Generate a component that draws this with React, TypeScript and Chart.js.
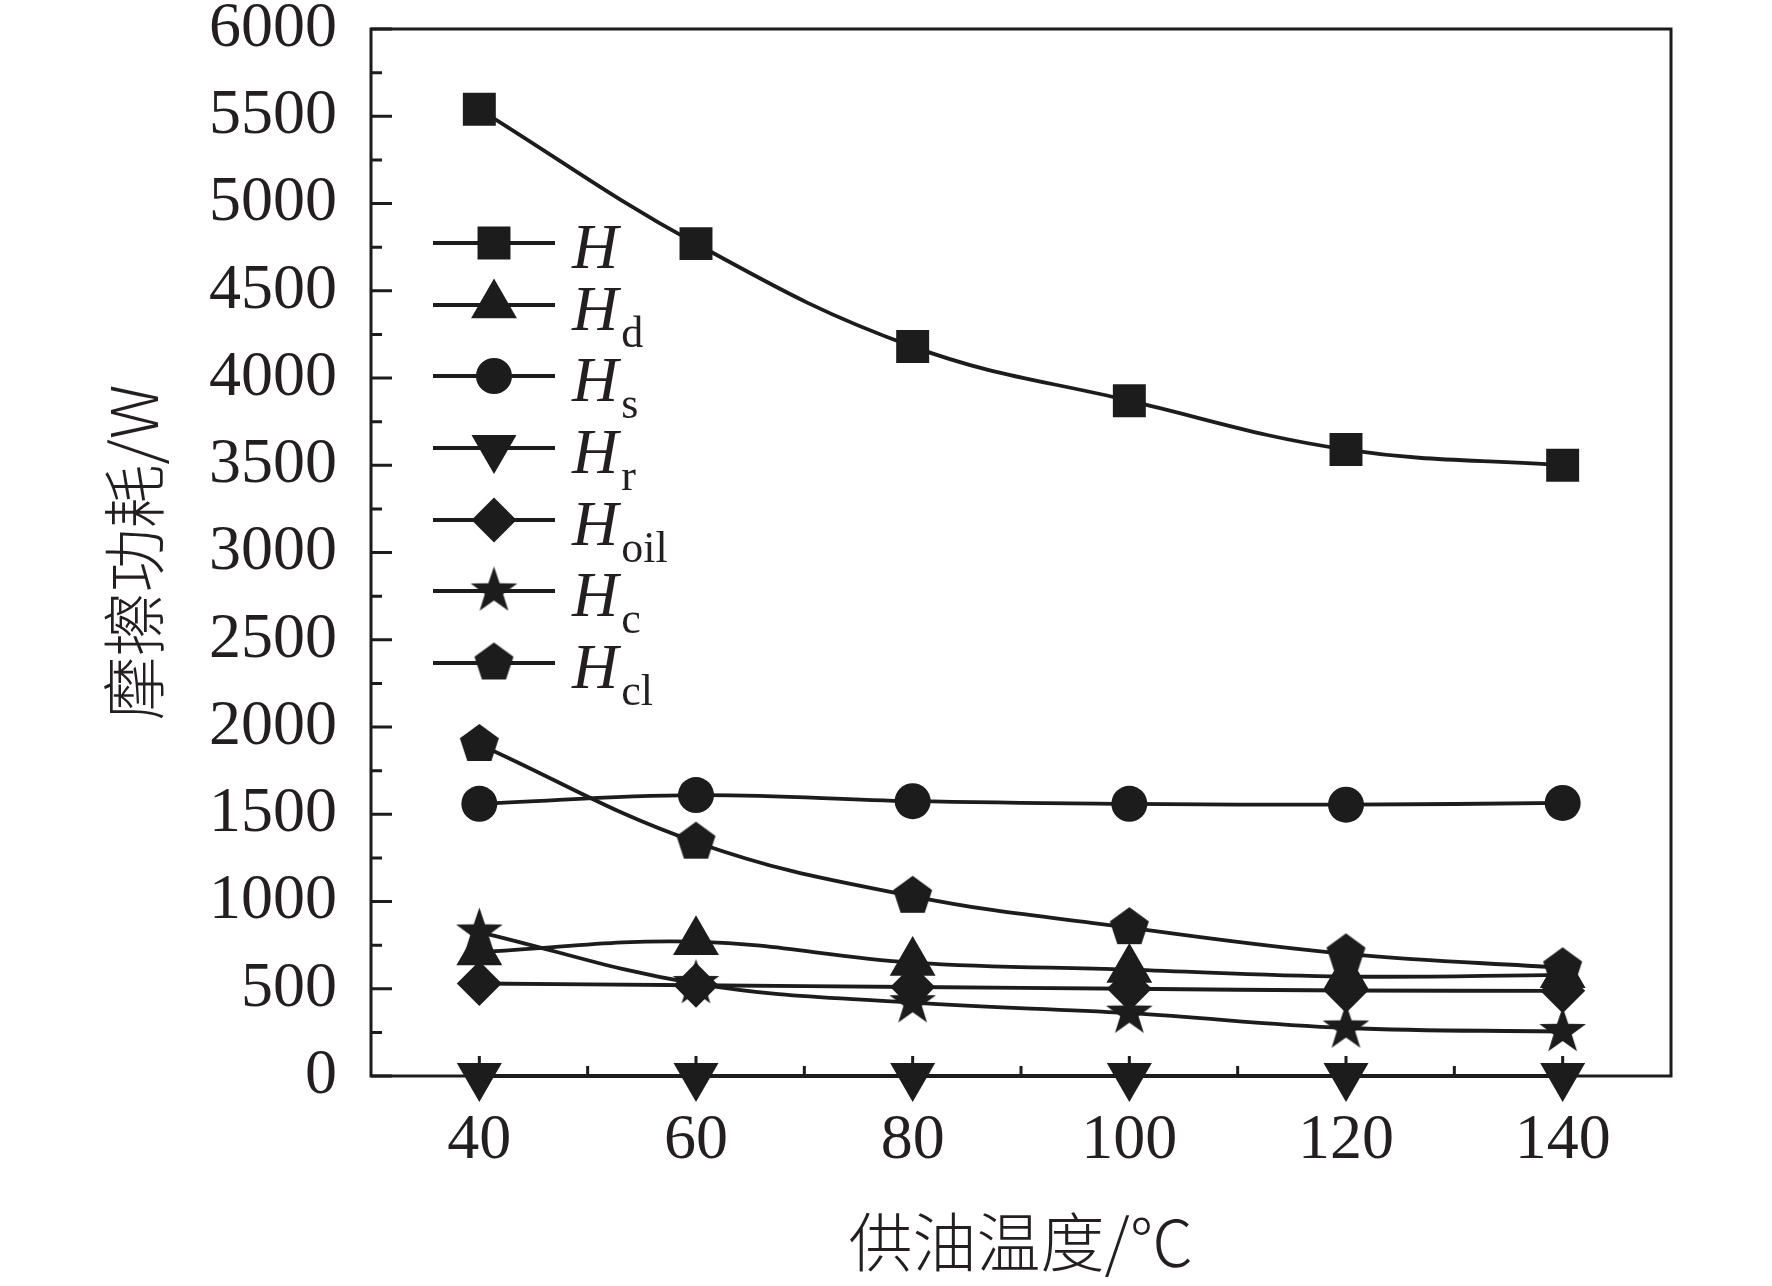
import React, { useEffect, useRef } from 'react';
import Chart from 'chart.js/auto';
import { drawPoint } from 'chart.js/helpers';

// supply oil temperature (°C)
const temperatures = [40, 60, 80, 100, 120, 140];

// friction power loss (W)
const H = [5540, 4770, 4180, 3870, 3590, 3500];
const Hd = [710, 770, 650, 610, 570, 580];
const Hs = [1560, 1610, 1575, 1560, 1555, 1565];
const Hr = [0, 0, 0, 0, 0, 0];
const Hoil = [530, 520, 510, 500, 490, 488];
const Hc = [825, 530, 420, 360, 275, 255];
const Hcl = [1900, 1340, 1030, 850, 700, 620];

const seriesNames = ['H', 'H', 'H', 'H', 'H', 'H', 'H'];
const seriesSubs = ['', 'd', 's', 'r', 'oil', 'c', 'cl'];

const xMajorTicks = [40, 60, 80, 100, 120, 140];
const xMinorTicks = [50, 70, 90, 110, 130];
const yMajorTicks = [0, 500, 1000, 1500, 2000, 2500, 3000, 3500, 4000, 4500, 5000, 5500, 6000];
const yMinorTicks = [250, 750, 1250, 1750, 2250, 2750, 3250, 3750, 4250, 4750, 5250, 5750];

const ink = '#1c1c1c';
const textInk = '#231f20';

function polygonMarker(points: number, outer: number, inner: number) {
    const size = Math.ceil(outer * 2 + 2);
    const c = document.createElement('canvas');
    c.width = size;
    c.height = size;
    const g = c.getContext('2d');
    if (!g) return c;
    const cx = size / 2;
    const cy = size / 2;
    const steps = inner > 0 ? points * 2 : points;
    g.beginPath();
    for (let i = 0; i < steps; i++) {
        const r = inner > 0 && i % 2 === 1 ? inner : outer;
        const a = -Math.PI / 2 + (i * 2 * Math.PI) / steps;
        const px = cx + r * Math.cos(a);
        const py = cy + r * Math.sin(a);
        if (i === 0) g.moveTo(px, py);
        else g.lineTo(px, py);
    }
    g.closePath();
    g.fillStyle = ink;
    g.fill();
    return c;
}

const ticksAndLegend = {
    id: 'ticksAndLegend',
    afterDatasetsDraw(chart: any) {
        const { ctx, chartArea } = chart;
        const xs = chart.scales.x;
        const ys = chart.scales.y;
        ctx.save();
        ctx.strokeStyle = ink;
        ctx.lineWidth = 3;
        ctx.strokeRect(chartArea.left, chartArea.top, chartArea.right - chartArea.left, chartArea.bottom - chartArea.top);

        ctx.beginPath();
        yMajorTicks.forEach((v) => {
            const py = ys.getPixelForValue(v);
            ctx.moveTo(chartArea.left, py);
            ctx.lineTo(chartArea.left + 21, py);
        });
        yMinorTicks.forEach((v) => {
            const py = ys.getPixelForValue(v);
            ctx.moveTo(chartArea.left, py);
            ctx.lineTo(chartArea.left + 11, py);
        });
        xMajorTicks.forEach((v) => {
            const px = xs.getPixelForValue(v);
            ctx.moveTo(px, chartArea.bottom);
            ctx.lineTo(px, chartArea.bottom - 20);
        });
        xMinorTicks.forEach((v) => {
            const px = xs.getPixelForValue(v);
            ctx.moveTo(px, chartArea.bottom);
            ctx.lineTo(px, chartArea.bottom - 10);
        });
        ctx.stroke();

        // legend inside the plot, line + marker + H with subscript
        const lineX0 = chartArea.left + 62;
        const lineX1 = chartArea.left + 184;
        const markX = chartArea.left + 123;
        const textX = chartArea.left + 201;
        const rows = [243, 305, 376, 448, 520, 591, 663];
        chart.data.datasets.forEach((ds: any, i: number) => {
            const y = rows[i];
            ctx.lineWidth = 4;
            ctx.beginPath();
            ctx.moveTo(lineX0, y);
            ctx.lineTo(lineX1, y);
            ctx.stroke();
            ctx.fillStyle = ink;
            drawPoint(ctx, {
                pointStyle: ds.pointStyle,
                rotation: ds.pointRotation || 0,
                radius: ds.pointRadius,
                borderWidth: 0,
            } as any, markX, y);
            ctx.fillStyle = textInk;
            ctx.textAlign = 'left';
            ctx.textBaseline = 'alphabetic';
            ctx.font = 'italic 64px "Liberation Serif"';
            ctx.fillText(seriesNames[i], textX, y + 25);
            const w = ctx.measureText(seriesNames[i]).width;
            if (seriesSubs[i]) {
                ctx.font = '44px "Liberation Serif"';
                ctx.fillText(seriesSubs[i], textX + w + 3, y + 42);
            }
        });
        ctx.restore();
    },
};

const App: React.FC = () => {
    const canvasRef = useRef<HTMLCanvasElement>(null);
    const chartRef = useRef<Chart>();

    useEffect(() => {
        document.body.style.margin = '0';
        const ctx = canvasRef.current?.getContext('2d');
        if (!ctx) return;
        if (chartRef.current) chartRef.current.destroy();

        const star = polygonMarker(5, 24.5, 9.6);
        const pentagon = polygonMarker(5, 20.5, 0);

        const series = (label: string, values: number[], style: any, radius: number, rotation = 0) => ({
            label,
            data: values.map((v, i) => ({ x: temperatures[i], y: v })),
            borderColor: ink,
            backgroundColor: ink,
            borderWidth: 3.8,
            tension: 0.4,
            pointStyle: style,
            pointRadius: radius,
            pointRotation: rotation,
            pointBackgroundColor: ink,
            pointBorderWidth: 0,
            clip: false as any,
        });

        chartRef.current = new Chart(ctx, {
            type: 'line',
            data: {
                datasets: [
                    series('H', H, 'rect', 23.3),
                    series('Hd', Hd, 'triangle', 26.5),
                    series('Hs', Hs, 'circle', 18),
                    series('Hr', Hr, 'triangle', 26, 180),
                    series('Hoil', Hoil, 'rectRot', 22.5),
                    series('Hc', Hc, star, 24.5),
                    series('Hcl', Hcl, pentagon, 20.5),
                ],
            },
            options: {
                animation: false,
                responsive: true,
                maintainAspectRatio: false,
                layout: { padding: { top: 29, right: 101, left: 0, bottom: 0 } },
                plugins: { legend: { display: false }, tooltip: { enabled: false } },
                scales: {
                    x: {
                        type: 'linear',
                        min: 30,
                        max: 150,
                        afterBuildTicks: (scale: any) => {
                            scale.ticks = xMajorTicks.map((v) => ({ value: v }));
                        },
                        afterFit: (scale: any) => {
                            scale.height = 210;
                            scale.paddingLeft = 0;
                            scale.paddingRight = 0;
                        },
                        grid: { display: false },
                        border: { display: false },
                        ticks: {
                            autoSkip: false,
                            maxRotation: 0,
                            padding: 19,
                            color: textInk,
                            font: { family: '"Liberation Serif"', size: 64 },
                            callback: (v: any) => String(v),
                        },
                        title: {
                            display: true,
                            text: '供油温度/℃',
                            color: textInk,
                            font: { family: '"Noto Sans CJK SC"', size: 64, lineHeight: 1, weight: '300' },
                            padding: { top: 0, bottom: 12 },
                        },
                    },
                    y: {
                        min: 0,
                        max: 6000,
                        afterBuildTicks: (scale: any) => {
                            scale.ticks = yMajorTicks.map((v) => ({ value: v }));
                        },
                        afterFit: (scale: any) => {
                            scale.width = 371;
                            scale.paddingTop = 0;
                            scale.paddingBottom = 0;
                        },
                        grid: { display: false },
                        border: { display: false },
                        ticks: {
                            padding: 26,
                            color: textInk,
                            font: { family: '"Liberation Serif"', size: 64 },
                            callback: (v: any) => String(v),
                        },
                        title: {
                            display: true,
                            text: '摩擦功耗/W',
                            color: textInk,
                            font: { family: '"Noto Sans CJK SC"', size: 64, lineHeight: 1, weight: '300' },
                            padding: { top: 102, bottom: 0 },
                        },
                    },
                },
            } as any,
            plugins: [ticksAndLegend],
        });

        return () => {
            if (chartRef.current) {
                chartRef.current.destroy();
                chartRef.current = undefined;
            }
        };
    }, []);

    return (
        <div style={{ position: 'absolute', left: 0, top: 0, width: '1772px', height: '1286px', background: '#fff' }}>
            <canvas ref={canvasRef}></canvas>
        </div>
    );
};

export default App;
